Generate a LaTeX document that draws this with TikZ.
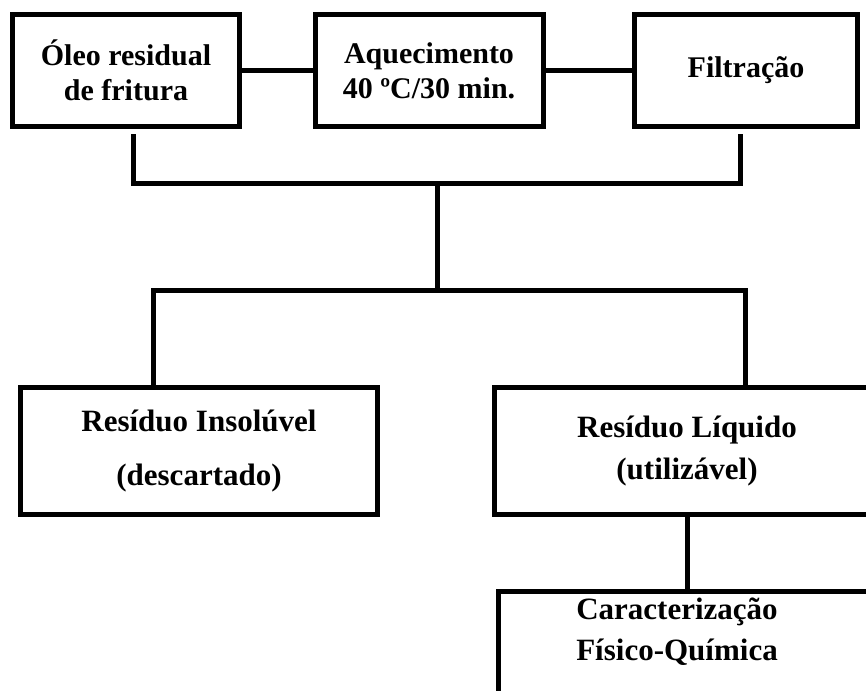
\documentclass[tikz,border=0pt]{standalone}
\usepackage{fontspec}
\setmainfont{Liberation Serif}

\begin{document}
\begin{tikzpicture}[x=1pt,y=-1pt,
  caixa/.style={draw=black,line width=5pt,rectangle,inner sep=0pt,align=center,
    font=\fontsize{30}{35}\selectfont\bfseries},
  caixab/.style={caixa,font=\fontsize{31}{42}\selectfont\bfseries},
  texto/.style={align=center,inner sep=0pt,font=\fontsize{31}{41}\selectfont\bfseries},
  ligacao/.style={draw=black,line width=5pt}]

\useasboundingbox (0,0) rectangle (866,690);
\clip (0,0) rectangle (866,690);

\node[caixa,minimum width=227pt,minimum height=112pt] (oleo) at (126,70.5) {\'Oleo residual\\de fritura};
\node[caixa,minimum width=228pt,minimum height=112pt] (aquec) at (429,70.5) {Aquecimento\\40 ºC/30 min.};
\node[caixa,minimum width=223pt,minimum height=112pt] (filtr) at (746,70.5) {Filtração};

\node[caixab,minimum width=357pt,minimum height=127pt] (insol) at (199,451) {Resíduo Insolúvel\\[12pt](descartado)};
\node[caixab,minimum width=385pt,minimum height=127pt] (liquido) at (687,451) {Resíduo Líquido\\(utilizável)};
\node[caixa,anchor=north west,minimum width=400pt,minimum height=150pt] (carac) at (495.5,588.5) {};
\node[texto] (carac-txt) at (677,632) {Caracterização\\Físico-Química};

\coordinate (brL) at (133,134);
\coordinate (brR) at (740,134);
\coordinate (juncao) at (437,183);
\coordinate (divisao) at (437,290);
\coordinate (desceL) at (153,290);
\coordinate (desceR) at (745,290);

\draw[ligacao] (oleo) -- (aquec);
\draw[ligacao] (aquec) -- (filtr);
\draw[ligacao] (brL) |- (juncao) -| (brR);
\draw[ligacao] (juncao) -- (divisao);
\draw[ligacao] (insol.north -| desceL) |- (divisao) -| (liquido.north -| desceR);
\draw[ligacao] (liquido.south) -- (liquido.south |- carac.north);
\end{tikzpicture}
\end{document}
